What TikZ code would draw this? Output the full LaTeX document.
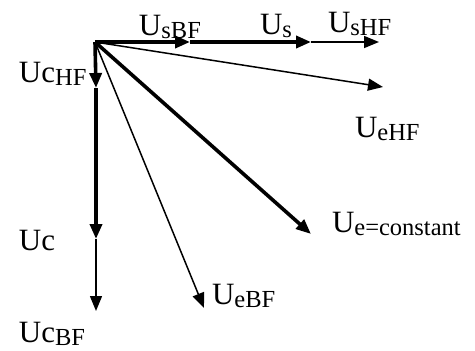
\documentclass[tikz,border=0pt]{standalone}
\usepackage{fontspec}
\setmainfont{Liberation Serif}
\usetikzlibrary{arrows.meta}
\newcommand{\mylab}[2]{{\fontsize{31}{31}\selectfont #1}{\fontsize{24.5}{24.5}\selectfont\raisebox{-3.5pt}{#2}}}
\begin{document}
\begin{tikzpicture}[x=1pt,y=-1pt,
  thickvec/.style={line width=3.6pt,-{Triangle[length=15pt,width=12pt]}},
  thinvec/.style={line width=1.5pt,-{Triangle[length=15pt,width=12pt]}},
  lbl/.style={anchor=base west,inner sep=0pt,outer sep=0pt}]
\useasboundingbox (0,0) rectangle (475,351);
\coordinate (O) at (95,42);
\coordinate (sBF) at (190,42);
\coordinate (s) at (311,42);
\coordinate (sHF) at (379,42);
\coordinate (eHF) at (383,87);
\coordinate (econst) at (311,234);
\coordinate (eBF) at (204,308);
\coordinate (cHF) at (96,88);
\coordinate (c) at (96,239);
\coordinate (cBF) at (96,311);
% horizontal
\draw[thinvec] (s) -- (sHF);
\draw[thickvec] (O) -- (sBF);
\draw[thickvec] (sBF) -- (s);
% vertical
\draw[thinvec] (c) -- (cBF);
\draw[thickvec] (O) -- (cHF);
\draw[thickvec] (cHF) -- (c);
% diagonals
\draw[thinvec] (O) -- (eHF);
\draw[thinvec] (O) -- (eBF);
\draw[thickvec] (O) -- (econst);
% labels
\node[lbl] (LsBF) at (139,35) {\mylab{U}{sBF}};
\node[lbl] (Ls) at (260,34) {\mylab{U}{s}};
\node[lbl] (LsHF) at (328,32) {\mylab{U}{sHF}};
\node[lbl] (LcHF) at (19,82) {\mylab{Uc}{HF}};
\node[lbl] (Lc) at (19,250) {\fontsize{31}{31}\selectfont Uc};
\node[lbl] (LcBF) at (19,342) {\mylab{Uc}{BF}};
\node[lbl] (LeHF) at (355,137) {\mylab{U}{eHF}};
\node[lbl] (Lec) at (332,232) {\mylab{U}{e=constant}};
\node[lbl] (LeBF) at (212,304) {\mylab{U}{eBF}};
\end{tikzpicture}
\end{document}
